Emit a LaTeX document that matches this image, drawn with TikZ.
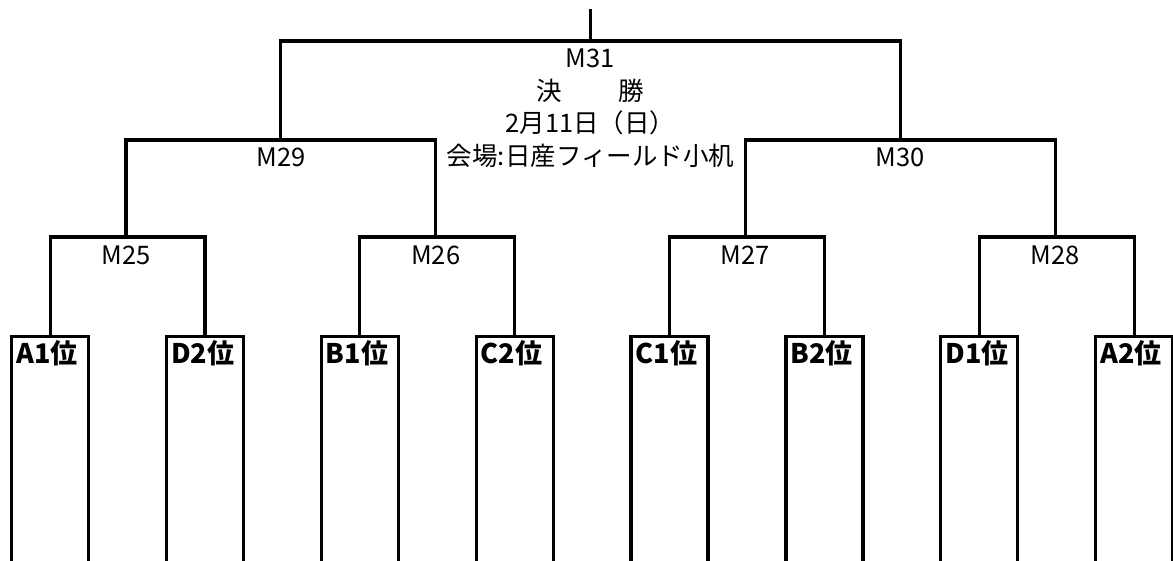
\documentclass[tikz,border=0pt]{standalone}
\usepackage{fontspec}
\setmainfont{Noto Sans CJK JP}
\begin{document}
\begin{tikzpicture}[x=1pt,y=-1pt,
  wire/.style={draw=black,line width=3.2pt,line join=miter},
  teambox/.style={draw=black,line width=3.2pt,minimum width=77pt,minimum height=245pt,anchor=north west,inner sep=0pt},
  teamlabel/.style={anchor=north west,inner sep=0pt,font=\fontsize{27}{27}\selectfont\bfseries},
  matchlabel/.style={inner sep=0pt,font=\fontsize{25.5}{25.5}\selectfont},
  junction/.style={inner sep=0pt,minimum size=0pt}]
\useasboundingbox (0,0) rectangle (1173,560);
% team boxes
\foreach \i/\lab in {0/A1位,1/D2位,2/B1位,3/C2位,4/C1位,5/B2位,6/D1位,7/A2位}{
  \node[teambox] (t\i) at ({10+154.86*\i},335) {};
  \node[teamlabel] (l\i) at ([shift={(6,5)}]t\i.north west) {\lab};
}
% bracket junctions
\coordinate (m25) at (125.95,237);
\coordinate (m26) at (435.65,237);
\coordinate (m27) at (745.35,237);
\coordinate (m28) at (1055.1,237);
\coordinate (m29) at (280.8,140);
\coordinate (m30) at (900.2,140);
\coordinate (m31) at (590.5,41);
\coordinate (top) at (590.5,9);
% first round
\draw[wire] (t0.north) |- (m25) -| (t1.north);
\draw[wire] (t2.north) |- (m26) -| (t3.north);
\draw[wire] (t4.north) |- (m27) -| (t5.north);
\draw[wire] (t6.north) |- (m28) -| (t7.north);
% second round
\draw[wire] (m25) |- (m29) -| (m26);
\draw[wire] (m27) |- (m30) -| (m28);
% final
\draw[wire] (m29) |- (m31) -| (m30);
\draw[wire] (m31) -- (top);
% labels
\node[matchlabel] (lm25) at (125.95,255) {M25};
\node[matchlabel] (lm26) at (435.65,255) {M26};
\node[matchlabel] (lm27) at (745.35,255) {M27};
\node[matchlabel] (lm28) at (1055.1,255) {M28};
\node[matchlabel] (lm29) at (280.8,157) {M29};
\node[matchlabel] (lm30) at (900.2,157) {M30};
\node[matchlabel,align=center,font=\fontsize{25.5}{32.5}\selectfont] (lm31) at (590.5,108)
  {M31\\決\hspace{2.2em}勝\\2月11日（日）\\会場:日産フィールド小机};
\end{tikzpicture}
\end{document}
